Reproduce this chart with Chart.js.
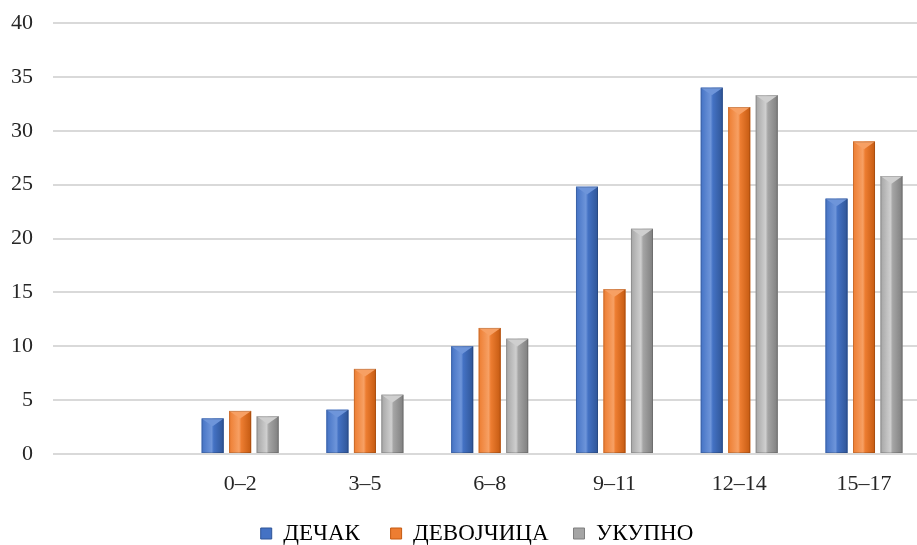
<!DOCTYPE html>
<html>
<head>
<meta charset="utf-8">
<script src="https://cdn.jsdelivr.net/npm/chart.js@4.4.0/dist/chart.umd.min.js"></script>
<style>
  html, body { margin: 0; padding: 0; background: #fff; overflow: hidden; }
  #wrap { width: 917px; height: 545px; overflow: hidden; }
</style>
</head>
<body>
<div id="wrap"><canvas id="grafico" width="954" height="555"></canvas></div>
<script>
// categories (first one is empty in the original)
var categorias = ["", "0–2", "3–5", "6–8", "9–11", "12–14", "15–17"];
var decak = [null, 3.3, 4.1, 10.0, 24.8, 34.0, 23.7];
var devojcica = [null, 4.0, 7.9, 11.7, 15.3, 32.2, 29.0];
var ukupno = [null, 3.5, 5.5, 10.7, 20.9, 33.3, 25.8];
var yTicks = [0, 5, 10, 15, 20, 25, 30, 35, 40];

var colores = ["#4472C4", "#ED7D31", "#A5A5A5"];
var oscuros = ["#2F5597", "#C55A11", "#7F7F7F"];
var claros = ["#6E95DA", "#F7A064", "#CFCFCF"];
var espacios = ["     ", "    ", ""];

// bevel look on each bar
var bisel = {
  id: "bisel",
  afterDatasetsDraw: function (chart) {
    var ctx = chart.ctx;
    chart.data.datasets.forEach(function (ds, i) {
      var meta = chart.getDatasetMeta(i);
      meta.data.forEach(function (bar, j) {
        if (ds.data[j] == null) return;
        var p = bar.getProps(["x", "y", "base", "width"], true);
        var l = p.x - p.width / 2, r = p.x + p.width / 2;
        var g = ctx.createLinearGradient(l, 0, r, 0);
        g.addColorStop(0, colores[i]);
        g.addColorStop(0.45, claros[i]);
        g.addColorStop(0.55, colores[i]);
        g.addColorStop(1, oscuros[i]);
        ctx.save();
        ctx.fillStyle = g;
        ctx.fillRect(l, p.y, p.width, p.base - p.y);
        ctx.beginPath();
        ctx.moveTo(l, p.y);
        ctx.lineTo(r, p.y);
        ctx.lineTo(p.x, p.y + p.width * 0.35);
        ctx.closePath();
        ctx.fillStyle = claros[i];
        ctx.fill();
        ctx.strokeStyle = "rgba(0,0,0,0.15)";
        ctx.lineWidth = 1;
        ctx.strokeRect(l + 0.5, p.y + 0.5, p.width - 1, p.base - p.y - 1);
        ctx.restore();
      });
    });
  }
};

document.addEventListener("DOMContentLoaded", function () {
  var ctx = document.getElementById("grafico").getContext("2d");
  new Chart(ctx, {
    type: "bar",
    data: {
      labels: categorias,
      datasets: [
        { label: "ДЕЧАК", data: decak, backgroundColor: colores[0] },
        { label: "ДЕВОЈЧИЦА", data: devojcica, backgroundColor: colores[1] },
        { label: "УКУПНО", data: ukupno, backgroundColor: colores[2] }
      ]
    },
    options: {
      responsive: false,
      animation: false,
      layout: { padding: { top: 23, left: 0, right: 0, bottom: 0 } },
      datasets: {
        bar: { barPercentage: 0.8, categoryPercentage: 0.661 }
      },
      scales: {
        x: {
          grid: { display: false, drawTicks: false },
          border: { display: false },
          ticks: {
            padding: 17,
            color: "#262626",
            font: { family: "Liberation Serif", size: 22 }
          },
          afterFit: function (s) { s.height = 66; s.paddingLeft = 0; s.paddingRight = 0; }
        },
        y: {
          min: 0,
          max: 40,
          afterBuildTicks: function (s) {
            s.ticks = yTicks.map(function (v) { return { value: v }; });
          },
          grid: { color: "#D9D9D9", lineWidth: 2, drawTicks: false },
          border: { display: false },
          ticks: {
            padding: 20,
            color: "#262626",
            font: { family: "Liberation Serif", size: 22 }
          },
          afterFit: function (s) { s.width = 53; s.paddingTop = 0; s.paddingBottom = 0; }
        },
        y2: {
          position: "right",
          grid: { display: false, drawTicks: false },
          border: { display: false },
          ticks: { display: false },
          afterFit: function (s) { s.width = 27.6; s.paddingTop = 0; s.paddingBottom = 0; }
        }
      },
      plugins: {
        legend: {
          position: "bottom",
          labels: {
            boxWidth: 11,
            boxHeight: 11,
            padding: 2,
            color: "#262626",
            font: { family: "Liberation Serif", size: 23 },
            generateLabels: function (chart) {
              return chart.data.datasets.map(function (ds, i) {
                return {
                  text: ds.label + espacios[i],
                  fillStyle: colores[i],
                  strokeStyle: oscuros[i],
                  lineWidth: 1,
                  datasetIndex: i
                };
              });
            }
          }
        },
        tooltip: { enabled: false }
      }
    },
    plugins: [bisel]
  });
});
</script>
</body>
</html>
